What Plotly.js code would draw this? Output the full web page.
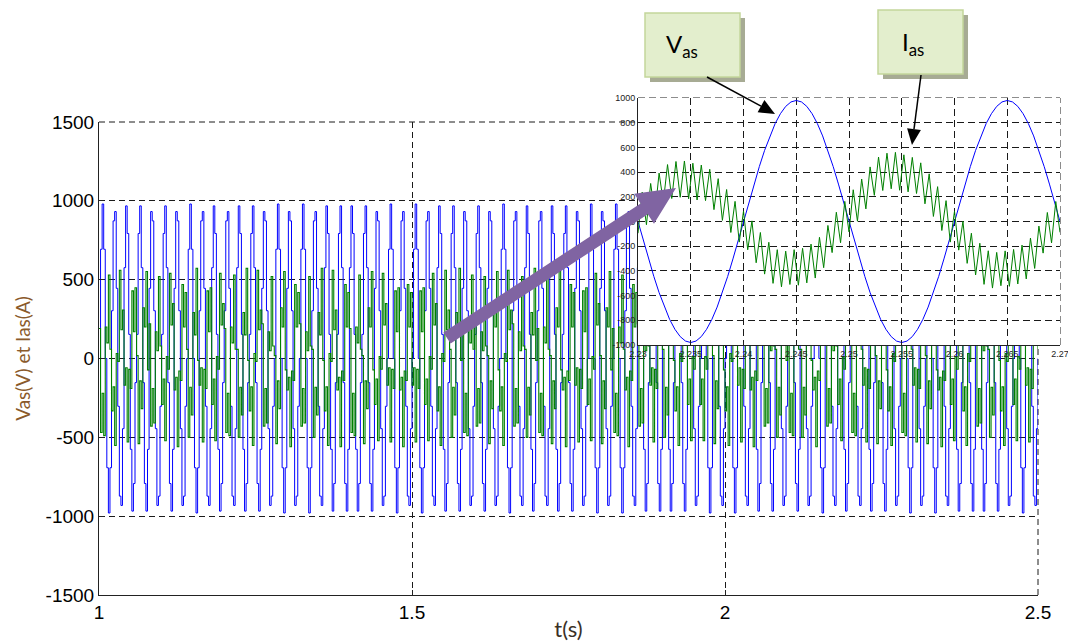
<!DOCTYPE html>
<html>
<head>
<meta charset="utf-8">
<script src="https://cdn.plot.ly/plotly-3.0.1.min.js"></script>
<style>
  html, body { margin: 0; padding: 0; background: #ffffff; }
  #chart { width: 1068px; height: 642px; }
</style>
</head>
<body>
<div id="chart"></div>
<script>
// ---------------- DATA ----------------
// main view: 1 s .. 2.5 s, one (held) sample every 2.5 ms
const mainT0 = 1.0;
const mainDt = 0.0025;

const vasMain = [
0,693,980,693,0,-693,-980,-693, 303,873,932,445,-303,-873,-932,-445, 576,968,793,153,-576,-968,-793,-153, 153,793,968,576,-153,-793,-968,-576, 445,932,873,303,-445,-932,-873,-303,
153,793,968,576,-153,-793,-968,-576, 445,932,873,303,-445,-932,-873,-303, 0,693,980,693,0,-693,-980,-693, 303,873,932,445,-303,-873,-932,-445, 576,968,793,153,-576,-968,-793,-153,
303,873,932,445,-303,-873,-932,-445, 576,968,793,153,-576,-968,-793,-153, 153,793,968,576,-153,-793,-968,-576, 445,932,873,303,-445,-932,-873,-303, 0,693,980,693,0,-693,-980,-693,
445,932,873,303,-445,-932,-873,-303, 0,693,980,693,0,-693,-980,-693, 303,873,932,445,-303,-873,-932,-445, 576,968,793,153,-576,-968,-793,-153, 153,793,968,576,-153,-793,-968,-576,
576,968,793,153,-576,-968,-793,-153, 153,793,968,576,-153,-793,-968,-576, 445,932,873,303,-445,-932,-873,-303, 0,693,980,693,0,-693,-980,-693, 303,873,932,445,-303,-873,-932,-445,
0,693,980,693,0,-693,-980,-693, 303,873,932,445,-303,-873,-932,-445, 576,968,793,153,-576,-968,-793,-153, 153,793,968,576,-153,-793,-968,-576, 445,932,873,303,-445,-932,-873,-303,
153,793,968,576,-153,-793,-968,-576, 445,932,873,303,-445,-932,-873,-303, 0,693,980,693,0,-693,-980,-693, 303,873,932,445,-303,-873,-932,-445, 576,968,793,153,-576,-968,-793,-153,
303,873,932,445,-303,-873,-932,-445, 576,968,793,153,-576,-968,-793,-153, 153,793,968,576,-153,-793,-968,-576, 445,932,873,303,-445,-932,-873,-303, 0,693,980,693,0,-693,-980,-693,
445,932,873,303,-445,-932,-873,-303, 0,693,980,693,0,-693,-980,-693, 303,873,932,445,-303,-873,-932,-445, 576,968,793,153,-576,-968,-793,-153, 153,793,968,576,-153,-793,-968,-576,
576,968,793,153,-576,-968,-793,-153, 153,793,968,576,-153,-793,-968,-576, 445,932,873,303,-445,-932,-873,-303, 0,693,980,693,0,-693,-980,-693, 303,873,932,445,-303,-873,-932,-445,
0,693,980,693,0,-693,-980,-693, 303,873,932,445,-303,-873,-932,-445, 576,968,793,153,-576,-968,-793,-153, 153,793,968,576,-153,-793,-968,-576, 445,932,873,303,-445,-932,-873,-303,
153,793,968,576,-153,-793,-968,-576, 445,932,873,303,-445,-932,-873,-303, 0,693,980,693,0,-693,-980,-693, 303,873,932,445,-303,-873,-932,-445, 576,968,793,153,-576,-968,-793,-153,
303,873,932,445,-303,-873,-932,-445, 576,968,793,153,-576,-968,-793,-153, 153,793,968,576,-153,-793,-968,-576, 445,932,873,303,-445,-932,-873,-303, 0,693,980,693,0,-693,-980,-693,
445,932,873,303,-445,-932,-873,-303, 0,693,980,693,0,-693,-980,-693, 303,873,932,445,-303,-873,-932,-445, 576,968,793,153,-576,-968,-793,-153, 153,793,968,576,-153,-793,-968,-576,
576,968,793,153,-576,-968,-793,-153, 153,793,968,576,-153,-793,-968,-576, 445,932,873,303,-445,-932,-873,-303, 0,693,980,693,0,-693,-980,-693, 303,873,932,445,-303,-873,-932,-445,
0
];

const iasMain = [
190,-469,-220,-489,200,99,530,59, -332,-180,-552,32,-18,560,182,308, -170,-59,-530,-69,-190,429,170,449, 18,-540,-142,-318,322,200,552,-72,
220,-429,-190,-409,170,49,520,79, -292,-130,-522,12,-68,540,212,348, -200,-119,-560,-79,-140,469,200,419, 58,-500,-182,-358,292,150,572,-12,
-170,-59,-530,-69,-190,429,170,449, -292,-130,-522,12,-68,540,212,348, 190,-469,-220,-489,200,99,530,59, 58,-500,-182,-358,292,150,572,-12,
-332,-180,-552,32,-18,560,182,308, 220,-429,-190,-409,170,49,520,79, 18,-540,-142,-318,322,200,552,-72, -200,-119,-560,-79,-140,469,200,419,
220,-429,-190,-409,170,49,520,79, 58,-500,-182,-358,292,150,572,-12, -332,-180,-552,32,-18,560,182,308, -200,-119,-560,-79,-140,469,200,419,
190,-469,-220,-489,200,99,530,59, 18,-540,-142,-318,322,200,552,-72, -292,-130,-522,12,-68,540,212,348, -170,-59,-530,-69,-190,429,170,449,
-200,-119,-560,-79,-140,469,200,419, -170,-59,-530,-69,-190,429,170,449, -292,-130,-522,12,-68,540,212,348, -332,-180,-552,32,-18,560,182,308,
58,-500,-182,-358,292,150,572,-12, 190,-469,-220,-489,200,99,530,59, 220,-429,-190,-409,170,49,520,79, 18,-540,-142,-318,322,200,552,-72,
-332,-180,-552,32,-18,560,182,308, 220,-429,-190,-409,170,49,520,79, 58,-500,-182,-358,292,150,572,-12, 190,-469,-220,-489,200,99,530,59,
18,-540,-142,-318,322,200,552,-72, -200,-119,-560,-79,-140,469,200,419, -170,-59,-530,-69,-190,429,170,449, -292,-130,-522,12,-68,540,212,348,
18,-540,-142,-318,322,200,552,-72, 190,-469,-220,-489,200,99,530,59, -200,-119,-560,-79,-140,469,200,419, 220,-429,-190,-409,170,49,520,79,
-170,-59,-530,-69,-190,429,170,449, 58,-500,-182,-358,292,150,572,-12, -332,-180,-552,32,-18,560,182,308, -292,-130,-522,12,-68,540,212,348,
-292,-130,-522,12,-68,540,212,348, 18,-540,-142,-318,322,200,552,-72, -332,-180,-552,32,-18,560,182,308, -170,-59,-530,-69,-190,429,170,449,
-200,-119,-560,-79,-140,469,200,419, 220,-429,-190,-409,170,49,520,79, 58,-500,-182,-358,292,150,572,-12, 190,-469,-220,-489,200,99,530,59,
58,-500,-182,-358,292,150,572,-12, -200,-119,-560,-79,-140,469,200,419, 220,-429,-190,-409,170,49,520,79, -292,-130,-522,12,-68,540,212,348,
190,-469,-220,-489,200,99,530,59, -170,-59,-530,-69,-190,429,170,449, 18,-540,-142,-318,322,200,552,-72, -332,-180,-552,32,-18,560,182,308,
190,-469,-220,-489,200,99,530,59, -170,-59,-530,-69,-190,429,170,449, 18,-540,-142,-318,322,200,552,-72, -200,-119,-560,-79,-140,469,200,419,
-292,-130,-522,12,-68,540,212,348, -332,-180,-552,32,-18,560,182,308, 220,-429,-190,-409,170,49,520,79, 58,-500,-182,-358,292,150,572,-12,
-332,-180,-552,32,-18,560,182,308, -292,-130,-522,12,-68,540,212,348, -170,-59,-530,-69,-190,429,170,449,
60
];

// zoom window: 2.23 s .. 2.27 s
const insetT0 = 2.23;
const vasInsetDt = 0.0005;
const vasInset = [
0,-153,-303,-445,-576,-693,-793,-873,-932,-968,-980,-968,-932,-873,-793,-693,-576,-445,-303,-153,
0,153,303,445,576,693,793,873,932,968,980,968,932,873,793,693,576,445,303,153,
0,-153,-303,-445,-576,-693,-793,-873,-932,-968,-980,-968,-932,-873,-793,-693,-576,-445,-303,-153,
0,153,303,445,576,693,793,873,932,968,980,968,932,873,793,693,576,445,303,153,
0
];
const iasInsetDt = 0.0004;
const iasInset = [
-95,238,-26,308,60,392,157,461,186,486,196,490,184,472,174,457,169,423,96,347,
9,259,-89,163,-167,84,-229,5,-334,-89,-426,-168,-501,-228,-529,-240,-510,-228,-516,-217,
-497,-183,-458,-128,-374,-32,-252,75,-172,163,
-84,257,2,344,102,442,212,522,251,553,265,560,253,540,240,519,227,475,143,386,
41,282,-73,169,-167,83,-232,1,-339,-95,-433,-176,-509,-237,-539,-250,-520,-238,-525,-226,
-506,-191,-465,-134,-380,-37,-256,73,-173,162,
-88
];

const mainYTicks = [-1500, -1000, -500, 0, 500, 1000, 1500];
const mainYLabels = ['-1500', '-1000', '-500', '0', '500', '1000', '1500'];
const mainXTicks = [1, 1.5, 2, 2.5];
const mainXLabels = ['1', '1.5', '2', '2.5'];
const insetYTicks = [-1000, -800, -600, -400, -200, 0, 200, 400, 600, 800, 1000];
const insetYLabels = ['-1000', '-800', '-600', '-400', '-200', '0', '200', '400', '600', '800', '1000'];
const insetXTicks = [2.23, 2.235, 2.24, 2.245, 2.25, 2.255, 2.26, 2.265, 2.27];
const insetXLabels = ['2.23', '2.235', '2.24', '2.245', '2.25', '2.255', '2.26', '2.265', '2.27'];

// ---------------- LAYOUT HELPERS ----------------
const W = 1068, H = 642;
const M = {l: 99, r: 8, t: 98, b: 47};
const PW = W - M.l - M.r, PH = H - M.t - M.b;
const px = x => (x - M.l) / PW;
const py = y => (H - M.b - y) / PH;

const tMain = vasMain.map((_, i) => mainT0 + i * mainDt);
const tVasInset = vasInset.map((_, i) => insetT0 + i * vasInsetDt);
const tIasInset = iasInset.map((_, i) => insetT0 + i * iasInsetDt);

const BLUE = '#0000ff';
const GREEN = '#008000';

const traces = [
  {x: tMain, y: vasMain, type: 'scatter', mode: 'lines', name: 'Vas', xaxis: 'x', yaxis: 'y',
   line: {color: BLUE, width: 1, shape: 'hv', simplify: false}},
  {x: tMain, y: iasMain, type: 'scatter', mode: 'lines', name: 'Ias', xaxis: 'x', yaxis: 'y',
   line: {color: GREEN, width: 1.1, shape: 'hv', simplify: false}},
  {x: tVasInset, y: vasInset, type: 'scatter', mode: 'lines', name: 'Vas zoom', xaxis: 'x2', yaxis: 'y2',
   line: {color: BLUE, width: 1}},
  {x: tIasInset, y: iasInset, type: 'scatter', mode: 'lines', name: 'Ias zoom', xaxis: 'x2', yaxis: 'y2',
   line: {color: GREEN, width: 1, simplify: false}}
];

const gridCommon = {gridcolor: '#1a1a1a', gridwidth: 1, zeroline: false, showline: true,
  linecolor: '#222', linewidth: 1, ticks: 'inside', tickcolor: '#222'};

// purple pointer arrow polygon (page pixels)
const arrowPx = [[443.4, 332.6], [640.6, 203.4], [634.3, 193.8], [676, 188],
                 [654.0, 223.8], [647.8, 214.2], [450.6, 343.4]];
const pathPx = pts => 'M' + pts.map(p => px(p[0]).toFixed(5) + ',' + py(p[1]).toFixed(5)).join('L') + 'Z';

function rectPx(x0, y0, x1, y1, fill, lineColor, lw) {
  return {type: 'rect', xref: 'paper', yref: 'paper', layer: 'above',
    x0: px(x0), x1: px(x1), y0: py(y1), y1: py(y0),
    fillcolor: fill, line: {color: lineColor, width: lw}};
}
function linePx(x0, y0, x1, y1, w) {
  return {type: 'line', xref: 'paper', yref: 'paper', layer: 'above',
    x0: px(x0), y0: py(y0), x1: px(x1), y1: py(y1), line: {color: '#000', width: w}};
}
function headPx(pts) {
  return {type: 'path', xref: 'paper', yref: 'paper', layer: 'above', path: pathPx(pts),
    fillcolor: '#000', line: {width: 0}};
}
function edgeLine(xr, yr, x0, y0, x1, y1, dash) {
  return {type: 'line', xref: xr, yref: yr, layer: 'below', x0: x0, y0: y0, x1: x1, y1: y1,
    line: {color: '#1a1a1a', width: 1, dash: dash}};
}

const layout = {
  width: W, height: H,
  margin: M,
  paper_bgcolor: '#ffffff',
  plot_bgcolor: 'rgb(255,255,255)',
  showlegend: false,
  hovermode: false,
  font: {family: 'Liberation Sans, Arial, sans-serif', color: '#000'},
  xaxis: Object.assign({}, gridCommon, {
    domain: [0, (1038 - M.l) / PW], anchor: 'y',
    range: [1, 2.5], tickmode: 'array', tickvals: mainXTicks, ticktext: mainXLabels,
    griddash: '6px,4px', ticklen: 5,
    tickfont: {size: 19, family: 'Liberation Sans, Arial, sans-serif'},
    title: {text: 't(s)', font: {size: 22, family: 'Lato, sans-serif', color: '#3a3026'}, standoff: 0},
    automargin: false
  }),
  yaxis: Object.assign({}, gridCommon, {
    domain: [0, (H - M.b - 122) / PH], anchor: 'x',
    range: [-1500, 1500], tickmode: 'array', tickvals: mainYTicks, ticktext: mainYLabels,
    griddash: '6px,4px', ticklen: 5,
    tickfont: {size: 19, family: 'Liberation Sans, Arial, sans-serif'},
    title: {text: 'Vas(V) et Ias(A)', font: {size: 19, family: 'Lato, sans-serif', color: '#8a5a2b'}, standoff: 9},
    automargin: false
  }),
  xaxis2: Object.assign({}, gridCommon, {
    domain: [(638 - M.l) / PW, 1], anchor: 'y2',
    range: [2.23, 2.27], tickmode: 'array', tickvals: insetXTicks, ticktext: insetXLabels,
    griddash: '7px,4px', ticklen: 3, ticklabeloverflow: 'allow',
    tickfont: {size: 9, family: 'Liberation Sans, Arial, sans-serif', color: '#222'},
    automargin: false
  }),
  yaxis2: Object.assign({}, gridCommon, {
    domain: [(H - M.b - 345) / PH, 1], anchor: 'x2',
    range: [-1000, 1000], tickmode: 'array', tickvals: insetYTicks, ticktext: insetYLabels,
    griddash: '7px,4px', ticklen: 3,
    tickfont: {size: 9, family: 'Liberation Sans, Arial, sans-serif', color: '#222'},
    automargin: false
  }),
  shapes: [
    // dashed top / right borders of both plots
    edgeLine('x domain', 'y domain', 0, 1, 1, 1, '6px,4px'),
    edgeLine('x domain', 'y domain', 1, 0, 1, 1, '6px,4px'),
    edgeLine('x2 domain', 'y2 domain', 0, 1, 1, 1, '7px,4px'),
    edgeLine('x2 domain', 'y2 domain', 1, 0, 1, 1, '7px,4px'),
    // purple pointer arrow
    {type: 'path', xref: 'paper', yref: 'paper', layer: 'above', path: pathPx(arrowPx),
     fillcolor: '#8064a2', line: {width: 0}},
    // label boxes with shadow
    rectPx(650, 18, 745, 82, '#a7ab94', 'rgba(0,0,0,0)', 0),
    rectPx(645, 13, 740, 77, '#e3eecd', '#c3d69b', 1.5),
    rectPx(883, 15, 968, 79, '#a7ab94', 'rgba(0,0,0,0)', 0),
    rectPx(878, 10, 963, 74, '#e3eecd', '#c3d69b', 1.5),
    // black callout arrows
    linePx(707, 77, 761.0, 106.2, 1.5),
    headPx([[757.6, 112.3], [775, 114], [764.4, 100.1]]),
    linePx(921, 75, 914.0, 129.1, 1.5),
    headPx([[907.1, 128.2], [912, 145], [920.9, 130.0]])
  ],
  annotations: [
    {xref: 'paper', yref: 'paper', x: px(682), y: py(45), text: 'V<sub>as</sub>', showarrow: false,
     font: {size: 24, family: 'Lato, sans-serif', color: '#000'}, xanchor: 'center', yanchor: 'middle'},
    {xref: 'paper', yref: 'paper', x: px(913), y: py(43), text: 'I<sub>as</sub>', showarrow: false,
     font: {size: 24, family: 'Lato, sans-serif', color: '#000'}, xanchor: 'center', yanchor: 'middle'}
  ]
};

Plotly.newPlot('chart', traces, layout, {staticPlot: true, displayModeBar: false});
</script>
</body>
</html>
